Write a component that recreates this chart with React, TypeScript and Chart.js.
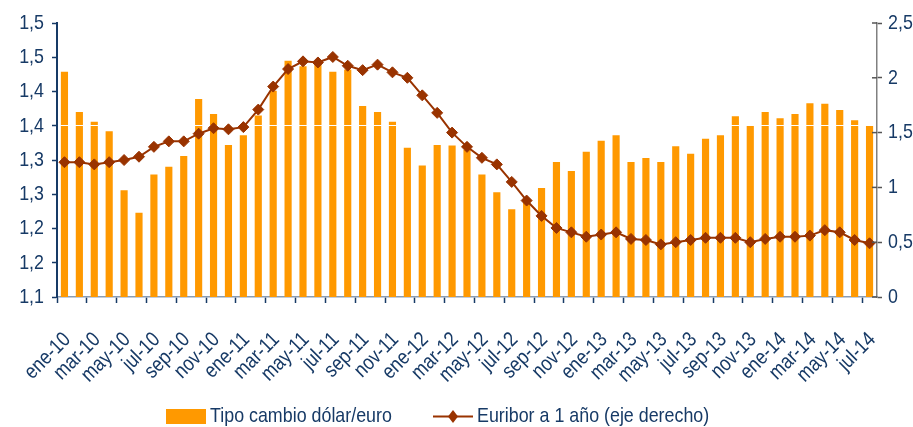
import React, { useEffect, useRef } from 'react';
import { Chart, registerables } from 'chart.js';

Chart.register(...registerables);

const MONTHS = [
  'ene-10', 'feb-10', 'mar-10', 'abr-10', 'may-10', 'jun-10', 'jul-10', 'ago-10', 'sep-10', 'oct-10', 'nov-10', 'dic-10',
  'ene-11', 'feb-11', 'mar-11', 'abr-11', 'may-11', 'jun-11', 'jul-11', 'ago-11', 'sep-11', 'oct-11', 'nov-11', 'dic-11',
  'ene-12', 'feb-12', 'mar-12', 'abr-12', 'may-12', 'jun-12', 'jul-12', 'ago-12', 'sep-12', 'oct-12', 'nov-12', 'dic-12',
  'ene-13', 'feb-13', 'mar-13', 'abr-13', 'may-13', 'jun-13', 'jul-13', 'ago-13', 'sep-13', 'oct-13', 'nov-13', 'dic-13',
  'ene-14', 'feb-14', 'mar-14', 'abr-14', 'may-14', 'jun-14', 'jul-14',
];

const EXCHANGE_RATE = [
  1.429, 1.370, 1.356, 1.342, 1.256, 1.223, 1.279, 1.290, 1.306, 1.389, 1.367, 1.322,
  1.336, 1.365, 1.401, 1.445, 1.437, 1.439, 1.429, 1.432, 1.379, 1.370, 1.356, 1.318,
  1.292, 1.322, 1.321, 1.315, 1.279, 1.253, 1.228, 1.240, 1.259, 1.297, 1.284, 1.312,
  1.328, 1.336, 1.297, 1.303, 1.297, 1.320, 1.309, 1.331, 1.336, 1.364, 1.350, 1.370,
  1.361, 1.367, 1.383, 1.382, 1.373, 1.358, 1.351,
];

const EURIBOR_1Y = [
  1.23, 1.23, 1.21, 1.23, 1.25, 1.28, 1.37, 1.42, 1.42, 1.49, 1.54, 1.53,
  1.55, 1.71, 1.92, 2.08, 2.15, 2.14, 2.19, 2.11, 2.07, 2.12, 2.05, 2.00,
  1.84, 1.68, 1.50, 1.37, 1.27, 1.21, 1.05, 0.88, 0.74, 0.63, 0.59, 0.55,
  0.57, 0.59, 0.53, 0.52, 0.48, 0.50, 0.52, 0.54, 0.54, 0.54, 0.50, 0.53,
  0.55, 0.55, 0.56, 0.61, 0.59, 0.52, 0.49,
];

const LEFT_TICK_VALUES = [1.1, 1.15, 1.2, 1.25, 1.3, 1.35, 1.4, 1.45, 1.5];
const LEFT_TICK_LABELS = ['1,1', '1,2', '1,2', '1,3', '1,3', '1,4', '1,4', '1,5', '1,5'];
const RIGHT_TICK_VALUES = [0, 0.5, 1, 1.5, 2, 2.5];
const RIGHT_TICK_LABELS = ['0', '0,5', '1', '1,5', '2', '2,5'];
const WHITE_RULE_VALUE = 1.35;

const BAR_LABEL = 'Tipo cambio dólar/euro';
const LINE_LABEL = 'Euribor a 1 año (eje derecho)';

const NAVY = '#173a66';
const ORANGE = '#ff9900';
const BROWN = '#993300';
const FONT = "'Liberation Sans Narrow', 'Arial Narrow', 'Liberation Sans', Arial, sans-serif";
const NARROW = 0.85;

function narrowText(ctx: any, text: string, x: number, y: number, align: string, angle = 0) {
  ctx.save();
  ctx.translate(x, y);
  if (angle) ctx.rotate(angle);
  ctx.scale(NARROW, 1);
  ctx.textAlign = align;
  ctx.textBaseline = 'middle';
  ctx.fillText(text, 0, 0);
  ctx.restore();
}

const whiteRulePlugin = {
  id: 'whiteRule',
  afterDatasetDraw(chart: any, args: any) {
    if (args.meta.type !== 'bar') return;
    const { ctx, chartArea } = chart;
    const y = Math.round(chart.scales.y.getPixelForValue(WHITE_RULE_VALUE)) - 0.5;
    ctx.save();
    ctx.strokeStyle = '#ffffff';
    ctx.lineWidth = 1;
    ctx.beginPath();
    ctx.moveTo(chartArea.left + 1, y);
    ctx.lineTo(chartArea.right - 1, y);
    ctx.stroke();
    ctx.restore();
  },
};

const tickTextPlugin = {
  id: 'tickText',
  afterDraw(chart: any) {
    const { ctx, chartArea, scales } = chart;
    ctx.save();
    ctx.strokeStyle = '#555555';
    ctx.lineWidth = 1.5;
    RIGHT_TICK_VALUES.forEach((v) => {
      const y = scales.y1.getPixelForValue(v);
      ctx.beginPath();
      ctx.moveTo(chartArea.right - 5, y);
      ctx.lineTo(chartArea.right, y);
      ctx.stroke();
    });
    ctx.fillStyle = NAVY;
    ctx.font = `21px ${FONT}`;
    LEFT_TICK_VALUES.forEach((v, i) => {
      narrowText(ctx, LEFT_TICK_LABELS[i], chartArea.left - 13, scales.y.getPixelForValue(v), 'right');
    });
    RIGHT_TICK_VALUES.forEach((v, i) => {
      narrowText(ctx, RIGHT_TICK_LABELS[i], chartArea.right + 11, scales.y1.getPixelForValue(v), 'left');
    });
    ctx.font = `21px ${FONT}`;
    MONTHS.forEach((m, i) => {
      if (i % 2 !== 0) return;
      const x = scales.x.getPixelForTick(i);
      narrowText(ctx, m, x + 3, chartArea.bottom + 39.5, 'right', -Math.PI / 4);
    });
    ctx.restore();
  },
};

const legendPlugin = {
  id: 'customLegend',
  afterDraw(chart: any) {
    const { ctx } = chart;
    const cy = 416.5;
    ctx.save();
    ctx.font = `21px ${FONT}`;
    ctx.fillStyle = ORANGE;
    ctx.fillRect(166, 409, 40, 15);
    ctx.fillStyle = NAVY;
    narrowText(ctx, BAR_LABEL, 210, cy, 'left');
    ctx.strokeStyle = BROWN;
    ctx.lineWidth = 2;
    ctx.beginPath();
    ctx.moveTo(433, cy);
    ctx.lineTo(473, cy);
    ctx.stroke();
    ctx.fillStyle = BROWN;
    ctx.beginPath();
    ctx.moveTo(453, cy - 6.5);
    ctx.lineTo(458, cy);
    ctx.lineTo(453, cy + 6.5);
    ctx.lineTo(448, cy);
    ctx.closePath();
    ctx.fill();
    ctx.fillStyle = NAVY;
    narrowText(ctx, LINE_LABEL, 477, cy, 'left');
    ctx.restore();
  },
};

export default function App() {
  const canvasRef = useRef<HTMLCanvasElement | null>(null);

  useEffect(() => {
    document.body.style.margin = '0';
    const canvas = canvasRef.current;
    if (!canvas) return;
    const chart = new Chart(canvas, {
      type: 'bar',
      data: {
        labels: MONTHS,
        datasets: [
          {
            type: 'line',
            label: LINE_LABEL,
            data: EURIBOR_1Y,
            yAxisID: 'y1',
            borderColor: BROWN,
            backgroundColor: BROWN,
            borderWidth: 2,
            pointStyle: 'rectRot',
            pointRadius: 5.5,
            pointBackgroundColor: BROWN,
            pointBorderColor: BROWN,
            pointBorderWidth: 1,
            tension: 0,
            order: 1,
          } as any,
          {
            type: 'bar',
            label: BAR_LABEL,
            data: EXCHANGE_RATE,
            yAxisID: 'y',
            backgroundColor: ORANGE,
            borderWidth: 0,
            barPercentage: 0.48,
            categoryPercentage: 1,
            order: 2,
          } as any,
        ],
      },
      options: {
        responsive: false,
        animation: false,
        layout: { padding: { top: 23, left: 0, right: 0, bottom: 0 } },
        plugins: {
          legend: { display: false },
          tooltip: { enabled: false },
        },
        scales: {
          x: {
            offset: true,
            grid: {
              offset: true,
              drawOnChartArea: false,
              drawTicks: true,
              tickLength: 6,
              tickWidth: 1.5,
              tickColor: (c: any) => (c.index % 2 === 0 ? NAVY : 'rgba(0,0,0,0)'),
            },
            border: { color: '#8a9cb4', width: 1.5 },
            ticks: { display: false, autoSkip: false },
            afterFit: (s: any) => { s.height = 130; },
          },
          y: {
            position: 'left',
            min: 1.1,
            max: 1.5,
            afterBuildTicks: (s: any) => { s.ticks = LEFT_TICK_VALUES.map((v) => ({ value: v })); },
            grid: { drawOnChartArea: false, drawTicks: true, tickLength: 5, tickColor: NAVY, tickWidth: 1.5 },
            border: { color: NAVY, width: 2 },
            ticks: { display: false },
            afterFit: (s: any) => { s.width = 57; },
          },
          y1: {
            position: 'right',
            min: 0,
            max: 2.5,
            afterBuildTicks: (s: any) => { s.ticks = RIGHT_TICK_VALUES.map((v) => ({ value: v })); },
            grid: { drawOnChartArea: false, drawTicks: true, tickLength: 5, tickColor: '#555555', tickWidth: 1.5 },
            border: { color: '#808080', width: 1.5 },
            ticks: { display: false },
            afterFit: (s: any) => { s.width = 36; },
          },
        },
      } as any,
      plugins: [whiteRulePlugin, tickTextPlugin, legendPlugin],
    });
    return () => chart.destroy();
  }, []);

  return (
    <div style={{ width: 913, height: 427, position: 'relative', background: '#ffffff' }}>
      <canvas ref={canvasRef} width={913} height={427} style={{ display: 'block' }} />
    </div>
  );
}
